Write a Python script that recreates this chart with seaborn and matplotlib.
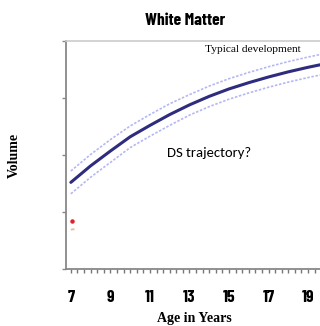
import pandas as pd
import numpy as np
import seaborn as sns
import matplotlib.pyplot as plt
from matplotlib.ticker import MultipleLocator

sns.set_style("white")
plt.rcParams['text.color'] = 'black'
plt.rcParams['axes.labelcolor'] = 'black'
plt.rcParams['xtick.color'] = 'black'

edad = [7, 8, 9, 10, 11, 12, 13, 14, 15, 16, 17, 18, 19, 19.7]
volumen = [1.52, 1.81, 2.07, 2.32, 2.52, 2.71, 2.88, 3.03, 3.16, 3.27, 3.37, 3.46, 3.54, 3.59]
banda_sup = [1.72, 2.01, 2.27, 2.51, 2.71, 2.90, 3.06, 3.21, 3.34, 3.45, 3.55, 3.64, 3.72, 3.77]
banda_inf = [1.32, 1.61, 1.87, 2.13, 2.33, 2.52, 2.70, 2.85, 2.98, 3.09, 3.19, 3.28, 3.36, 3.41]
ds_edad = [7.05]
ds_vol = [0.85]
ds2_edad = [7.0, 7.2]
ds2_vol = [0.69, 0.70]
xticks = [7, 9, 11, 13, 15, 17, 19]

df = pd.DataFrame({'Edad': edad, 'Volumen': volumen, 'Sup': banda_sup, 'Inf': banda_inf})

narrow = ['Barlow Condensed', 'DejaVu Sans']

fig = plt.figure(figsize=(3.2, 3.26), dpi=100)
ax = fig.add_axes([0.206, 0.175, 0.80, 0.699])

sns.lineplot(data=df, x='Edad', y='Sup', ax=ax, color='#b4b8f2', lw=1.2, ls=(0, (1.5, 1)))
sns.lineplot(data=df, x='Edad', y='Inf', ax=ax, color='#b4b8f2', lw=1.2, ls=(0, (1.5, 1)))
sns.lineplot(data=df, x='Edad', y='Volumen', ax=ax, color='#2e2c7e', lw=2.2)
sns.lineplot(x=ds2_edad, y=ds2_vol, ax=ax, color='#f0b888', lw=1.3, ls=(0, (2, 1)))
ax.plot(ds_edad, ds_vol, 'o', color='#e0202a', ms=2.2)

ax.set_xlim(6.75, 19.7)
ax.set_ylim(0, 4)
ax.set_xticks(xticks)
ax.xaxis.set_minor_locator(MultipleLocator(1/3))
ax.set_yticks([0, 1, 2, 3, 4])
ax.set_yticklabels([])
ax.tick_params(axis='x', which='both', direction='out', length=3, width=1, color='#777777',
               bottom=True, labelsize=12.5, pad=12, labelcolor='black')
ax.tick_params(axis='y', direction='out', length=3, width=1, color='#888888', left=True)
for lab in ax.get_xticklabels():
    lab.set_family(narrow)
    lab.set_fontweight('bold')

for s in ['left', 'bottom']:
    ax.spines[s].set_color('#888888')
    ax.spines[s].set_linewidth(1.3)
ax.spines['top'].set_color('#cccccc')
ax.spines['top'].set_linewidth(1.2)
ax.spines['right'].set_visible(False)

ax.set_xlabel('Age in Years', family='Liberation Serif', fontweight='bold', fontsize=10, labelpad=5)
ax.set_ylabel('Volume', family='Liberation Serif', fontweight='bold', fontsize=10, labelpad=26)

fig.text(0.578, 0.938, 'White Matter', ha='center', va='center', fontsize=12.5, fontweight='bold',
         family=narrow, color='black')
ax.text(0.543, 0.965, 'Typical development', transform=ax.transAxes, ha='left', va='center',
        family='Liberation Serif', fontsize=8.2, color='black')
ax.text(0.395, 0.51, 'DS trajectory?', transform=ax.transAxes, ha='left', va='center',
        family=['Carlito', 'Lato'], fontsize=10.5, color='black')

fig.savefig('out.png', dpi=100)
